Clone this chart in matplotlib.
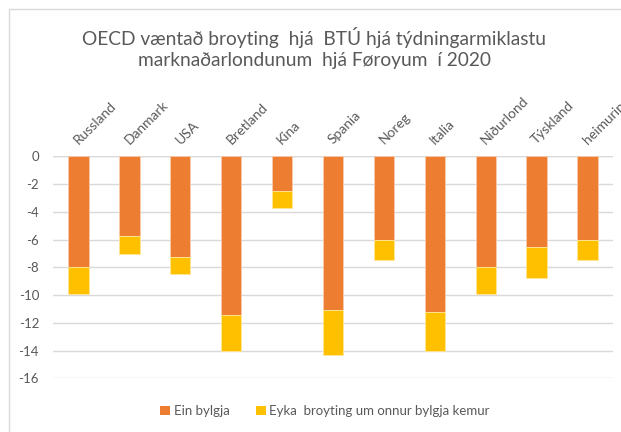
import matplotlib
matplotlib.use("Agg")
import matplotlib.pyplot as plt
import matplotlib.transforms as mtransforms
from matplotlib.patches import Rectangle, Patch
import numpy as np

categories = ["Russland", "Danmark", "USA", "Bretland", "Kina", "Spania",
              "Noreg", "Italia", "Niðurlond", "Týskland", "heimurin"]
ein_bylgja = [-8.0, -5.75, -7.25, -11.45, -2.5, -11.1, -6.0, -11.2, -8.0, -6.55, -6.0]
eyka = [-1.95, -1.3, -1.2, -2.55, -1.2, -3.25, -1.5, -2.8, -1.95, -2.2, -1.5]
yticks = [0, -2, -4, -6, -8, -10, -12, -14, -16]
title = "OECD væntað broyting  hjá  BTÚ hjá týdningarmiklastu\nmarknaðarlondunum  hjá Føroyum  í 2020"
legend_labels = ["Ein bylgja", "Eyka  broyting um onnur bylgja kemur"]

ORANGE = "#ED7D31"
YELLOW = "#FFC000"
GRAY = "#595959"
GRID = "#D9D9D9"
FONT = "Lato"

plt.rcParams['font.family'] = [FONT, 'DejaVu Sans']

fig = plt.figure(figsize=(6.21, 4.32), dpi=100)
W, H = 621, 432

# chart frame
fig.patches.append(Rectangle((9 / W, -0.1), 1.2, 1 - 9 / H + 0.1, transform=fig.transFigure,
                             fill=False, edgecolor=GRID, linewidth=1.0))

ax = fig.add_axes([53 / W, (H - 378.3) / H, 560 / W, 222 / H])
x = np.arange(len(categories))
bw = 0.4
ax.bar(x, ein_bylgja, width=bw, color=ORANGE, edgecolor="#F8CBAD", linewidth=0.6, zorder=3)
ax.bar(x, eyka, width=bw, bottom=ein_bylgja, color=YELLOW, edgecolor="#FFE699", linewidth=0.6, zorder=3)

ax.set_xlim(-0.5, len(categories) - 0.5)
ax.set_ylim(-16, 0)
ax.set_yticks(yticks)
ax.set_yticklabels([str(v) for v in yticks])
ax.tick_params(axis='y', length=0, labelsize=9.5, colors=GRAY, pad=10)
ax.tick_params(axis='x', length=0, labelbottom=False)
ax.set_xticks([])
ax.grid(axis='y', color=GRID, linewidth=1.0, zorder=0)
ax.set_axisbelow(True)
for s in ax.spines.values():
    s.set_visible(False)
ax.axhline(0, color=GRID, linewidth=1.0, zorder=1)

# category labels above the plot
trans = mtransforms.blended_transform_factory(ax.transData, ax.transAxes)
for i, c in enumerate(categories):
    ax.text(i + 0.03, 1.0, c, rotation=45, ha='left', va='bottom',
            rotation_mode='anchor', fontsize=10, color=GRAY,
            transform=trans + mtransforms.ScaledTranslation(0, 10 / 100, fig.dpi_scale_trans),
            clip_on=False)

fig.text(314 / W, 1 - 27 / H, title, ha='center', va='top', fontsize=13.8,
         color=GRAY, linespacing=1.3)

handles = [Patch(facecolor=ORANGE, edgecolor='none'), Patch(facecolor=YELLOW, edgecolor='none')]
leg = fig.legend(handles, legend_labels, loc='center', bbox_to_anchor=(325 / W, 1 - 411 / H),
                 ncol=2, frameon=False, fontsize=9.5, handlelength=0.75, handleheight=0.75,
                 handletextpad=0.25, columnspacing=2.0, labelcolor=GRAY)

fig.savefig("out.png", dpi=100)
